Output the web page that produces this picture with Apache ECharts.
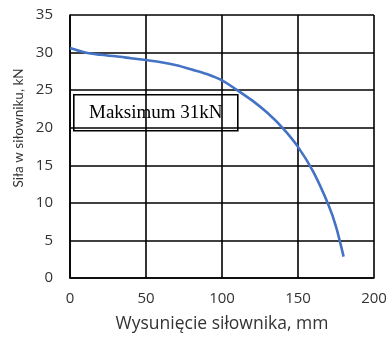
<!DOCTYPE html>
<html>
<head>
<meta charset="utf-8">
<script src="https://cdn.jsdelivr.net/npm/echarts@6/dist/echarts.min.js"></script>
<style>html,body{margin:0;padding:0;background:#fff}#c{width:390px;height:343px}</style>
</head>
<body>
<div id="c"></div>
<script>
const xValues = [0, 10, 20, 30, 40, 50, 60, 70, 80, 90, 100, 110, 120, 130, 140, 150, 160, 170, 175, 180];
const forceValues = [30.6, 30.0, 29.7, 29.5, 29.25, 29.0, 28.7, 28.3, 27.75, 27.15, 26.3, 25.0, 23.6, 21.95, 19.95, 17.45, 14.15, 9.75, 6.85, 2.85];
const xTicks = [0, 50, 100, 150, 200];
const yTicks = [0, 5, 10, 15, 20, 25, 30, 35];
const xTitle = 'Wysunięcie siłownika, mm';
const yTitle = 'Siła w siłowniku, kN';
const noteText = 'Maksimum 31kN';

const chart = echarts.init(document.getElementById('c'), null, {renderer: 'canvas'});
const sansFont = 'Open Sans';
chart.setOption({
  animation: false,
  grid: {left: 70, right: 16, top: 15, bottom: 65, show: false},
  xAxis: {
    type: 'value', min: xTicks[0], max: xTicks[xTicks.length - 1], interval: 50,
    name: xTitle, nameLocation: 'middle', nameGap: 37,
    nameTextStyle: {fontFamily: sansFont, fontSize: 17.5, color: '#333'},
    axisLine: {show: true, lineStyle: {color: '#000', width: 1.6}},
    axisTick: {show: false},
    axisLabel: {fontFamily: sansFont, fontSize: 15, color: '#333', margin: 13},
    splitLine: {show: true, lineStyle: {color: '#000', width: 1.6}}
  },
  yAxis: {
    type: 'value', min: yTicks[0], max: yTicks[yTicks.length - 1], interval: 5,
    axisLine: {show: true, lineStyle: {color: '#000', width: 1.6}},
    axisTick: {show: false},
    axisLabel: {fontFamily: sansFont, fontSize: 15, color: '#333', margin: 17},
    splitLine: {show: true, lineStyle: {color: '#000', width: 1.6}}
  },
  series: [{
    type: 'line',
    data: xValues.map((x, i) => [x, forceValues[i]]),
    smooth: 0.3,
    showSymbol: false,
    lineStyle: {color: '#4472C4', width: 2.6},
    z: 3
  }],
  graphic: [{
    type: 'text', x: 19, y: 128, rotation: Math.PI / 2, z: 10,
    style: {text: yTitle, fontFamily: 'Lato', fontSize: 13.5, fill: '#333', align: 'center', verticalAlign: 'middle'}
  }, {
    type: 'group', left: 73, top: 94, z: 10,
    children: [
      {type: 'rect', shape: {x: 0, y: 0, width: 164, height: 36},
       style: {fill: '#fff', stroke: '#000', lineWidth: 1.6}},
      {type: 'text', x: 82, y: 18,
       style: {text: noteText, fontFamily: 'Liberation Serif', fontSize: 19, fill: '#000', align: 'center', verticalAlign: 'middle'}}
    ]
  }]
});
</script>
</body>
</html>
